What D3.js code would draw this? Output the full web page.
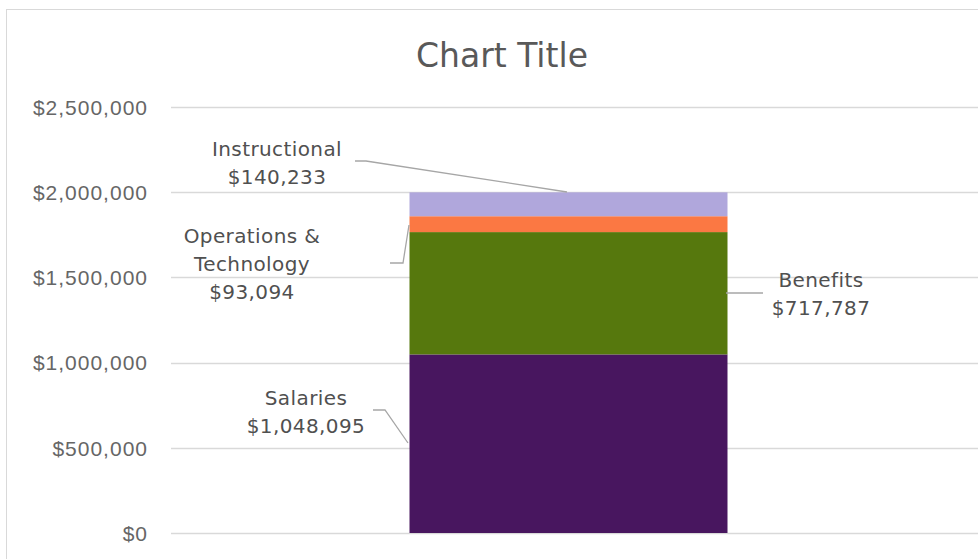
<!DOCTYPE html>
<html>
<head>
<meta charset="utf-8">
<script src="https://cdn.jsdelivr.net/npm/d3@7"></script>
<style>
  body { margin: 0; background: #fff; }
  svg { font-family: "Century Gothic", "DejaVu Sans", sans-serif; }
</style>
</head>
<body>
<div id="chart"></div>
<script>
// chart data
const categories = ["Salaries", "Benefits", "Operations & Technology", "Instructional"];
const values = [1048095, 717787, 93094, 140233];
const colors = ["#48165f", "#56780d", "#fb7843", "#b0a7dc"];
const yTicks = [0, 500000, 1000000, 1500000, 2000000, 2500000];

const width = 978;
const height = 559;

const svg = d3.select("#chart").append("svg").attr("width", width).attr("height", height);

// outer chart border
svg.append("rect").attr("x", 6.5).attr("y", 9.5).attr("width", width).attr("height", height)
  .attr("fill", "none").attr("stroke", "#d9d9d9");

// scales
const y = d3.scaleLinear().domain([0, 2500000]).range([533, 107]);
const x = d3.scaleBand().domain(["total"]).range([171, 966]).paddingInner(0).paddingOuter(0.75);

const fmt = d3.format("$,");

// gridlines
svg.append("g").selectAll("line").data(yTicks).enter().append("line")
  .attr("x1", 171).attr("x2", width)
  .attr("y1", d => Math.round(y(d)) + 0.5).attr("y2", d => Math.round(y(d)) + 0.5)
  .attr("stroke", "#d9d9d9").attr("stroke-width", 1.5);

// y axis labels
const yAxis = d3.axisLeft(y).tickValues(yTicks).tickFormat(fmt).tickSize(0).tickPadding(0);
const yg = svg.append("g").attr("transform", "translate(148,0)").call(yAxis);
yg.select(".domain").remove();
yg.selectAll("text").attr("fill", "#666").style("font-size", "21px")
  .style("letter-spacing", "1px").attr("dy", "0.35em");

// stacked segments
let cum = 0;
const stacked = values.map((v, i) => {
  const s = { name: categories[i], value: v, y0: cum, y1: cum + v, color: colors[i] };
  cum += v;
  return s;
});

svg.append("g").selectAll("rect").data(stacked).enter().append("rect")
  .attr("x", x("total"))
  .attr("width", x.bandwidth())
  .attr("y", d => y(d.y1))
  .attr("height", d => y(d.y0) - y(d.y1))
  .attr("fill", d => d.color);

// data labels with leader lines
const labelInfo = [
  { lines: ["Salaries", "$1,048,095"], cx: 306, ty: 398, leader: [[373, 410], [385, 410], [408, 443]] },
  { lines: ["Benefits", "$717,787"], cx: 821, ty: 280, leader: [[726, 293], [763, 293]] },
  { lines: ["Operations &", "Technology", "$93,094"], cx: 252, ty: 236, leader: [[390, 263], [403, 263], [409, 225]] },
  { lines: ["Instructional", "$140,233"], cx: 277, ty: 149, leader: [[355, 161], [366, 161], [567, 192]] }
];

labelInfo.forEach((l, i) => {
  svg.append("path")
    .attr("d", d3.line()(l.leader))
    .attr("fill", "none").attr("stroke", "#a6a6a6").attr("stroke-width", 1.3);
  const t = svg.append("text")
    .attr("text-anchor", "middle")
    .attr("fill", "#505050")
    .style("font-size", "20px")
    .style("letter-spacing", "0.4px");
  l.lines.forEach((line, j) => {
    t.append("tspan").attr("x", l.cx).attr("y", l.ty + j * 28).attr("dy", "0.35em").text(line);
  });
});

// title
svg.append("text").attr("x", 502).attr("y", 55).attr("dy", "0.35em")
  .attr("text-anchor", "middle").attr("fill", "#595959")
  .style("font-size", "33px").text("Chart Title");
</script>
</body>
</html>
